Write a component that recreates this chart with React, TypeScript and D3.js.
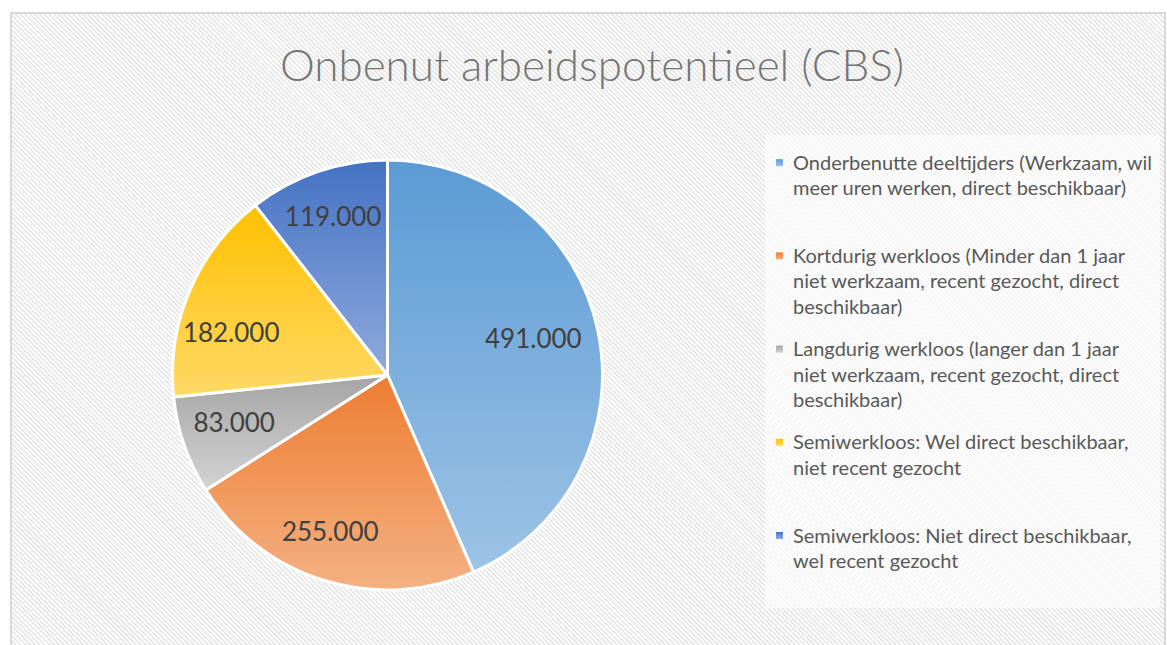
import React from "react";
import * as d3 from "d3";

const categories = [
  "Onderbenutte deeltijders (Werkzaam, wil meer uren werken, direct beschikbaar)",
  "Kortdurig werkloos (Minder dan 1 jaar niet werkzaam, recent gezocht, direct beschikbaar)",
  "Langdurig werkloos (langer dan 1 jaar niet werkzaam, recent gezocht, direct beschikbaar)",
  "Semiwerkloos: Wel direct beschikbaar, niet recent gezocht",
  "Semiwerkloos: Niet direct beschikbaar, wel recent gezocht",
];
const values = [491000, 255000, 83000, 182000, 119000];
const legendLines = [
  ["Onderbenutte deeltijders (Werkzaam, wil", "meer uren werken, direct beschikbaar)"],
  ["Kortdurig werkloos (Minder dan 1 jaar", "niet werkzaam, recent gezocht, direct", "beschikbaar)"],
  ["Langdurig werkloos (langer dan 1 jaar", "niet werkzaam, recent gezocht, direct", "beschikbaar)"],
  ["Semiwerkloos: Wel direct beschikbaar,", "niet recent gezocht"],
  ["Semiwerkloos: Niet direct beschikbaar,", "wel recent gezocht"],
];
const topColors = ["#5b9bd5", "#ed7d31", "#a5a5a5", "#ffc000", "#4472c4"];
const bottomColors = ["#9dc3e6", "#f4b183", "#d3d3d3", "#ffd966", "#8faadc"];
const title = "Onbenut arbeidspotentieel (CBS)";

// best-fit label nudges (style), px
const labelNudge: [number, number][] = [[-12, -3], [-10, 3], [-1, -5], [-8, 21], [-2, -6]];

const fmt = (v: number) => d3.format(",")(v).replace(/,/g, ".");

export default function App() {
  const W = 1167, H = 645;
  const cx = 387.5, cy = 375, R = 215;
  const pie = d3.pie<number>().sort(null).value((d) => d)(values);
  const arc = d3.arc<d3.PieArcDatum<number>>().innerRadius(0).outerRadius(R);
  const labelArc = d3.arc<d3.PieArcDatum<number>>().innerRadius(R * 0.75).outerRadius(R * 0.75);
  const legendY0 = 162.7, legendStep = 93.2, lineH = 25.5;
  return (
    <svg width={W} height={H} style={{ position: "absolute", left: 0, top: 0 }}>
      <defs>
        <pattern id="bg" patternUnits="userSpaceOnUse" width={3.4} height={3.4} patternTransform="rotate(-45)">
          <rect width={3.4} height={3.4} fill="#ffffff" />
          <rect width={1.6} height={3.4} fill="#e4e4e4" />
        </pattern>
        {values.map((_, i) => (
          <linearGradient key={i} id={`g${i}`} x1="0" y1="0" x2="0" y2="1">
            <stop offset="0" stopColor={topColors[i]} />
            <stop offset="1" stopColor={bottomColors[i]} />
          </linearGradient>
        ))}
      </defs>
      <rect x={0} y={0} width={W} height={H} fill="#ffffff" />
      <rect x={11} y={13} width={1154} height={640} fill="url(#bg)" stroke="#d9d9d9" strokeWidth={2} />
      <text x={592} y={81} textAnchor="middle" fontFamily="Lato, 'Open Sans', sans-serif" fontWeight={300} fontSize={44} fill="#757575">
        {title}
      </text>
      <rect x={765} y={135} width={395} height={473} fill="#ffffff" opacity={0.6} />
      <g transform={`translate(${cx},${cy})`}>
        {pie.map((p, i) => (
          <path key={i} d={arc(p) || ""} fill={`url(#g${i})`} stroke="#ffffff" strokeWidth={3} strokeLinejoin="round" />
        ))}
        {pie.map((p, i) => {
          const [x, y] = labelArc.centroid(p);
          return (
            <text key={i} x={x + labelNudge[i][0]} y={y + labelNudge[i][1]} dy="0.35em" textAnchor="middle" fontFamily="Lato, sans-serif" fontSize={26} fill="#404040">
              {fmt(values[i])}
            </text>
          );
        })}
      </g>
      <g>
        {categories.map((c, i) => {
          const y = legendY0 + i * legendStep;
          return (
            <g key={i}>
              <title>{c}</title>
              <rect x={776} y={y - 3.5} width={7} height={7} fill={`url(#g${i})`} />
              {legendLines[i].map((ln, j) => (
                <text key={j} x={793} y={y + j * lineH} dy="0.35em" fontFamily="Lato, sans-serif" fontSize={20} fill="#595959">
                  {ln}
                </text>
              ))}
            </g>
          );
        })}
      </g>
    </svg>
  );
}
